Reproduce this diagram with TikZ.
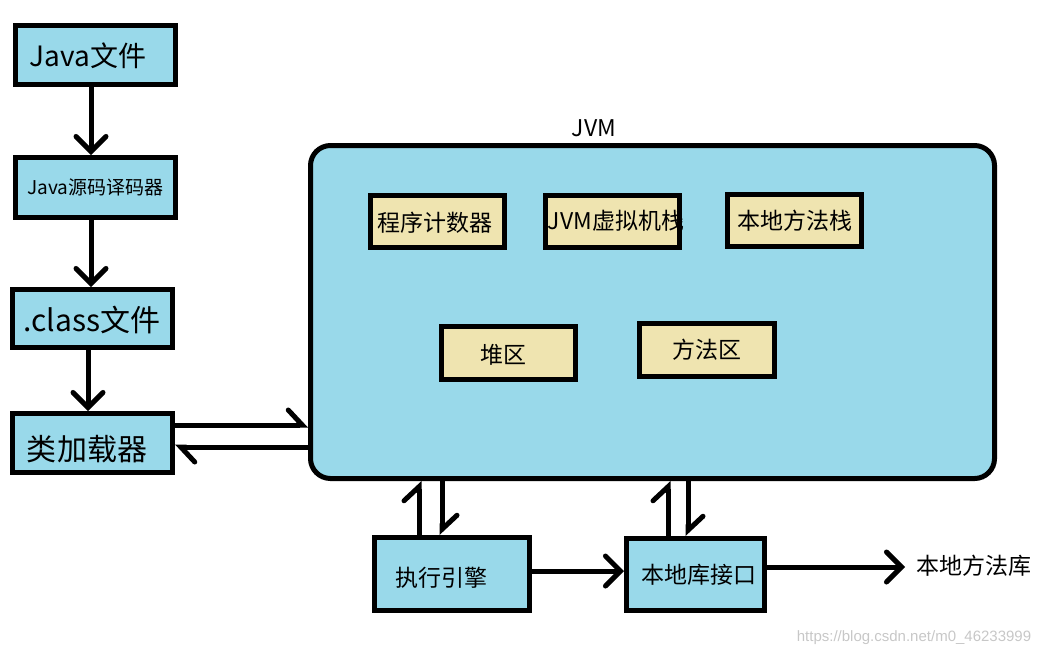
\documentclass[tikz,border=0pt]{standalone}
\usepackage{fontspec}
\setmainfont{Noto Sans CJK SC}
\newfontfamily\wmfont{Liberation Sans}
\usetikzlibrary{arrows.meta}
\definecolor{jblue}{RGB}{153,217,234}
\definecolor{jbeige}{RGB}{239,228,176}
\newcommand{\fs}[1]{\fontsize{#1}{#1}\selectfont}
\tikzset{
  bluebox/.style={draw=black, line width=5pt, fill=jblue, inner sep=0pt},
  beigebox/.style={draw=black, line width=5pt, fill=jbeige, inner sep=0pt},
  lbl/.style={inner sep=0pt},
  arr/.style={line width=5pt, -{Straight Barb[length=15pt,width=30pt,line cap=round]}},
  harp/.style={line width=5pt, -{Straight Barb[harpoon,length=14pt,width=30pt,line cap=round]}},
}
\begin{document}
\begin{tikzpicture}[x=1pt,y=-1pt]
\useasboundingbox (0,0) rectangle (1048,657);
% left column
\node[bluebox, minimum width=160pt, minimum height=59pt] (jf) at (95.5,55) {};
\node[lbl] (jft) at (88,56) {\fs{28}Java文件};
\node[bluebox, minimum width=160pt, minimum height=60pt] (jc) at (95.5,187.5) {\fs{19}Java源码译码器};
\node[bluebox, minimum width=160pt, minimum height=58pt] (cf) at (92.5,318.5) {};
\node[lbl] (cft) at (92,320) {\fs{30}.class文件};
\node[bluebox, minimum width=160pt, minimum height=59pt] (cl) at (92.5,443) {};
\node[lbl] (clt) at (87,449) {\fs{30}类加载器};
% JVM
\node[bluebox, rounded corners=20pt, minimum width=684pt, minimum height=333pt] (jvm) at (652.5,312) {};
\node[lbl] (jvml) at (594,128) {\fs{23}JVM};
\node[beigebox, minimum width=134pt, minimum height=52pt] (pc) at (437.5,221.5) {};
\node[lbl] (pct) at (435,223) {\fs{23}程序计数器};
\node[beigebox, minimum width=134pt, minimum height=52pt] (vs) at (612.5,221.5) {};
\node[lbl] (vst) at (616,221) {\fs{23}JVM虚拟机栈};
\node[beigebox, minimum width=134pt, minimum height=52pt] (ns) at (794.5,220.5) {\fs{23}本地方法栈};
\node[beigebox, minimum width=134pt, minimum height=53pt] (heap) at (508.5,353) {};
\node[lbl] (heapt) at (503,355) {\fs{23}堆区};
\node[beigebox, minimum width=135pt, minimum height=53pt] (ma) at (707,350) {\fs{23}方法区};
% bottom
\node[bluebox, minimum width=155pt, minimum height=73pt] (ee) at (452,574) {};
\node[lbl] (eet) at (441,578) {\fs{23}执行引擎};
\node[bluebox, minimum width=138pt, minimum height=72pt] (ni) at (695.5,574.5) {};
\node[lbl] (nit) at (699,575) {\fs{23}本地库接口};
\node[lbl, anchor=west] (nl) at (916,566) {\fs{23}本地方法库};
\node[lbl, text=black!22] (wm) at (914,638) {\wmfont\fs{15}https://blog.csdn.net/m0\_46233999};
% left arrows
\draw[arr] ([xshift=-4.5pt]jf.south) -- ([xshift=-4.5pt]jc.north);
\draw[arr] ([xshift=-4.5pt]jc.south) -- ([xshift=-4.5pt]jc.south |- cf.north);
\draw[arr] ([xshift=-4.5pt]cf.south) -- ([xshift=-4.5pt]cl.north);
% class loader <-> JVM
\coordinate (c1) at ([yshift=18pt]cl.east);
\coordinate (c2) at ([yshift=-4pt]cl.east);
\draw[harp] (c1) -- (c1 -| jvm.west);
\draw[harp] (c2 -| jvm.west) -- (c2);
% engine <-> JVM
\coordinate (e1) at ([xshift=-33pt]ee.north);
\coordinate (e2) at ([xshift=-10pt]ee.north);
\draw[harp] (e1) -- (e1 |- jvm.south);
\draw[harp] (e2 |- jvm.south) -- (e2);
% native interface <-> JVM
\coordinate (n1) at ([xshift=-27.5pt]ni.north);
\coordinate (n2) at ([xshift=-7.5pt]ni.north);
\draw[harp] (n1) -- (n1 |- jvm.south);
\draw[harp] (n2 |- jvm.south) -- (n2);
% engine -> native interface
\coordinate (e3) at ([yshift=3pt]ee.east);
\draw[arr] (e3) -- (e3 -| ni.west);
% native interface -> native library
\coordinate (n3) at ([yshift=7.5pt]ni.east);
\draw[arr, shorten >=11pt] (n3) -- (n3 -| nl.west);
\end{tikzpicture}
\end{document}
